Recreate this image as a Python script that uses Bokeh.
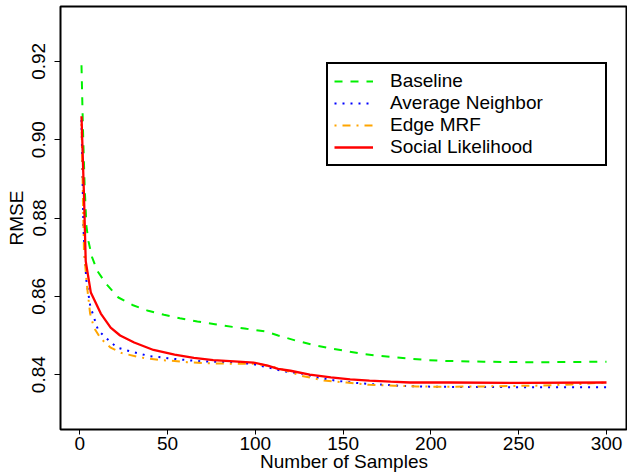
from bokeh.plotting import figure
from bokeh.models import FixedTicker, PrintfTickFormatter, Legend, LegendItem, Range1d
from bokeh.embed import file_html
from bokeh.resources import INLINE

# ---- data ----
baseline_x = [1, 1.5, 2, 2.8, 3.8, 5, 7, 10, 15, 22, 30, 39, 48, 57, 67, 77, 87, 95, 100,
              106, 113, 123, 132, 143, 152, 161, 171, 180, 190, 199, 209, 230, 250, 270, 300]
baseline_y = [0.919, 0.909, 0.900, 0.888, 0.878, 0.874, 0.870, 0.8665, 0.8632, 0.8597, 0.8578,
              0.8563, 0.8553, 0.8544, 0.8536, 0.8529, 0.8522, 0.8517, 0.8514,
              0.8510, 0.8500, 0.8487, 0.8477, 0.8467, 0.8460, 0.8453, 0.8448, 0.8444, 0.8440,
              0.8437, 0.8435, 0.8433, 0.8432, 0.8432, 0.8433]

avg_x = [1, 2.1, 3, 3.8, 6, 10.5, 17.6, 21.4, 26, 31, 35.6, 40, 45, 50, 54.5, 59, 64, 69, 79,
         84, 89, 93, 98, 117, 126.5, 136, 145.5, 155, 165, 175, 184, 194, 203, 250, 300]
avg_y = [0.905, 0.8775, 0.8691, 0.864, 0.8575, 0.8513, 0.8483, 0.8469, 0.8463, 0.8457, 0.8452,
         0.8447, 0.8445, 0.8442, 0.8440, 0.8438, 0.8436, 0.8434, 0.8433, 0.8432, 0.8431,
         0.8429, 0.8428, 0.8408, 0.8403, 0.8392, 0.8385, 0.8380, 0.8376, 0.8374, 0.8371,
         0.8370, 0.8369, 0.8368, 0.8368]

edge_x = [1, 1.5, 2.4, 4, 5.9, 8.1, 12, 17.6, 24, 34.7, 46, 54, 61, 74, 88, 101, 112, 126.5,
          139, 152, 165, 179, 192, 205, 230, 260, 280, 300]
edge_y = [0.904, 0.893, 0.8717, 0.8632, 0.8556, 0.852, 0.8492, 0.8469, 0.8455, 0.8444, 0.8437,
          0.8435, 0.8432, 0.8429, 0.8428, 0.8428, 0.8418, 0.8397, 0.8385, 0.8380, 0.8374,
          0.8372, 0.8370, 0.8369, 0.8370, 0.8372, 0.8375, 0.8380]

social_x = [1, 2.4, 3.4, 6.3, 12, 17.6, 23, 31, 42, 54, 65, 76, 88, 99, 107, 113, 120, 131,
            143, 154, 165, 177, 188, 211, 250, 300]
social_y = [0.906, 0.886, 0.869, 0.861, 0.8556, 0.852, 0.850, 0.8482, 0.8463, 0.8451, 0.8443,
            0.8437, 0.8434, 0.8431, 0.8423, 0.8415, 0.8410, 0.8400, 0.8393, 0.8388, 0.8385,
            0.8382, 0.8380, 0.8380, 0.8379, 0.8380]

x_ticks = [0, 50, 100, 150, 200, 250, 300]
y_ticks = [0.84, 0.86, 0.88, 0.90, 0.92]
labels = ["Baseline", "Average Neighbor", "Edge MRF", "Social Likelihood"]

FONT = "Liberation Sans"
FS = "19px"

p = figure(width=627, height=476, output_backend="svg", toolbar_location=None,
           x_range=Range1d(-10.96, 311.96), y_range=Range1d(0.826, 0.934),
           min_border_left=60, min_border_right=0, min_border_top=6, min_border_bottom=47)
p.background_fill_color = "white"
p.border_fill_color = "white"
p.outline_line_color = "black"
p.outline_line_width = 2
p.xgrid.visible = False
p.ygrid.visible = False

r1 = p.line(baseline_x, baseline_y, line_color="#00f000", line_width=2, line_dash="8 8")
r2 = p.line(avg_x, avg_y, line_color="blue", line_width=2, line_dash="2 6")
r3 = p.line(edge_x, edge_y, line_color="orange", line_width=2, line_dash="2 6 8 6")
r4 = p.line(social_x, social_y, line_color="red", line_width=2.3)

for ax in (p.xaxis[0], p.yaxis[0]):
    ax.axis_line_color = None
    ax.major_tick_line_color = "black"
    ax.major_tick_line_width = 1
    ax.minor_tick_line_color = None
    ax.major_tick_in = 0
    ax.major_label_text_font = FONT
    ax.major_label_text_font_size = FS
    ax.major_label_text_color = "black"
    ax.axis_label_text_font = FONT
    ax.axis_label_text_font_size = FS
    ax.axis_label_text_font_style = "normal"
    ax.axis_label_text_color = "black"

p.xaxis[0].ticker = FixedTicker(ticks=x_ticks)
p.xaxis[0].axis_label = "Number of Samples"
p.xaxis[0].major_tick_out = 5
p.xaxis[0].major_label_standoff = 2
p.xaxis[0].axis_label_standoff = -2

p.yaxis[0].ticker = FixedTicker(ticks=y_ticks)
p.yaxis[0].formatter = PrintfTickFormatter(format="%.2f")
p.yaxis[0].axis_label = "RMSE"
p.yaxis[0].major_label_orientation = "vertical"
p.yaxis[0].major_tick_out = 6
p.yaxis[0].major_label_standoff = 9
p.yaxis[0].axis_label_standoff = 3

legend = Legend(items=[LegendItem(label=l, renderers=[r]) for l, r in zip(labels, [r1, r2, r3, r4])],
                location=(266, 263), orientation="vertical",
                border_line_color="black", border_line_width=2, border_line_alpha=1,
                background_fill_color="white", background_fill_alpha=1,
                padding=6, margin=0, spacing=-1,
                glyph_width=39, glyph_height=20, label_standoff=17,
                label_width=209, label_height=20,
                label_text_font=FONT, label_text_font_size=FS, label_text_color="black")
p.add_layout(legend, "center")

open("out.html", "w").write(file_html(p, INLINE))
